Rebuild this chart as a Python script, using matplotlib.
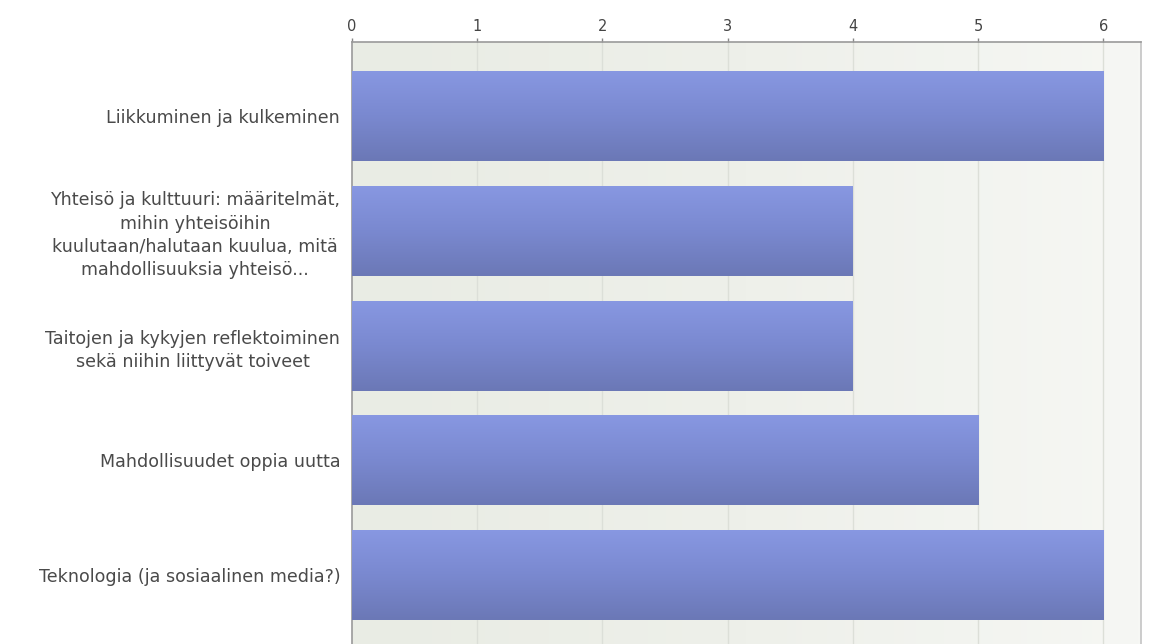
import numpy as np
import matplotlib
matplotlib.use('Agg')
import matplotlib.pyplot as plt
from matplotlib.colors import LinearSegmentedColormap

plt.rcParams['font.family'] = ['DejaVu Sans']

# %% data
categories = [
    "Liikkuminen ja kulkeminen",
    "Yhteisö ja kulttuuri: määritelmät,\nmihin yhteisöihin\nkuulutaan/halutaan kuulua, mitä\nmahdollisuuksia yhteisö...",
    "Taitojen ja kykyjen reflektoiminen\nsekä niihin liittyvät toiveet",
    "Mahdollisuudet oppia uutta",
    "Teknologia (ja sosiaalinen media?)",
]
counts = [6, 4, 4, 5, 6]
xticks = [0, 1, 2, 3, 4, 5, 6]

# %% figure
W, H = 1149, 644
fig = plt.figure(figsize=(W/100, H/100), dpi=100)
ax = fig.add_axes([352/W, 0, (1141-352)/W, (H-42)/H])

ax.set_xlim(0, 6.3)
ax.set_ylim(4.60, -0.645)

# background gradient
bg = LinearSegmentedColormap.from_list("bg", ["#e9ece4", "#eef0ea", "#f6f7f4"])
ax.imshow(np.linspace(0, 1, 256)[None, :], cmap=bg, aspect='auto',
          extent=(0, 6.3, 4.60, -0.645), zorder=0)

for xv in xticks[1:]:
    ax.axvline(xv, color="#dcdfd8", lw=1, zorder=1)

# bars with vertical gradient
ypos = np.arange(len(categories))
bars = ax.barh(ypos, counts, height=0.785, color="#7a88cc", edgecolor="none", zorder=2)
grad = LinearSegmentedColormap.from_list("bar", ["#8898e2", "#7a89d0", "#6b78b6"])
for b in bars:
    x0, y0 = b.get_x(), b.get_y()
    w, h = b.get_width(), b.get_height()
    im = ax.imshow(np.linspace(0, 1, 256)[:, None], cmap=grad, aspect='auto',
                   extent=(x0, x0 + w, y0 + h, y0), zorder=3)
    im.set_clip_path(b)

ax.set_xlim(0, 6.3)
ax.set_ylim(4.60, -0.645)

# axes styling
ax.xaxis.tick_top()
ax.set_xticks(xticks)
ax.set_xticklabels([str(v) for v in xticks])
ax.tick_params(axis='x', colors="#888888", labelcolor="#444444", labelsize=10.5,
               length=3, width=1, pad=3)
ax.set_yticks(ypos)
ax.set_yticklabels(categories, multialignment='center', linespacing=1.38)
ax.tick_params(axis='y', length=0, pad=8.5, labelcolor="#4a4a4a", labelsize=12.6)

for s in ['top', 'left', 'right']:
    ax.spines[s].set_color("#9a9a9a")
    ax.spines[s].set_linewidth(1.2)
ax.spines['right'].set_color("#c4c4c4")
ax.spines['bottom'].set_visible(False)

fig.savefig("out.png", dpi=100)
